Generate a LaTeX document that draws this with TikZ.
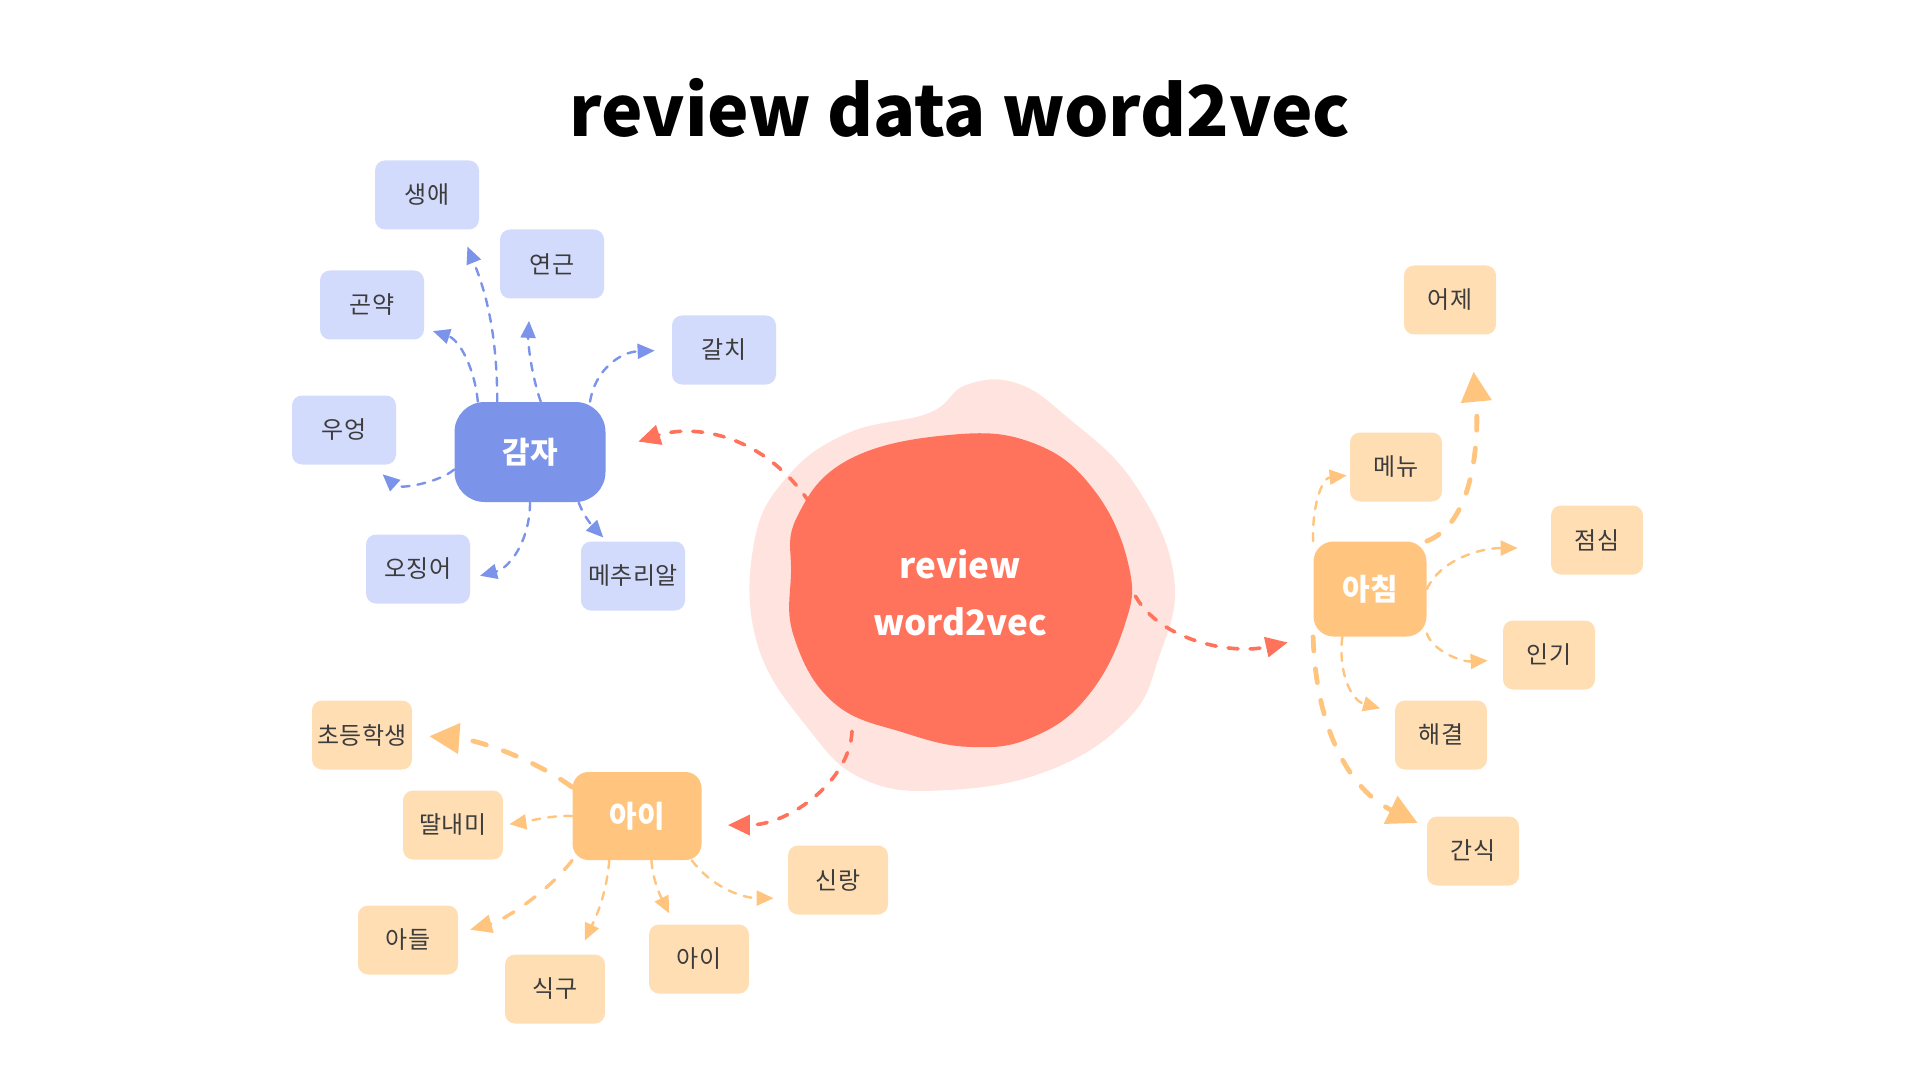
\documentclass[tikz,border=0pt]{standalone}
\usepackage{fontspec}
\setmainfont{Noto Sans CJK KR}
\usepackage{tikz}
\usetikzlibrary{arrows.meta}
\definecolor{mainblue}{HTML}{7B93E8}
\definecolor{leafblue}{HTML}{D3DBFD}
\definecolor{mainorange}{HTML}{FFC57E}
\definecolor{leaforange}{HTML}{FFDEB4}
\definecolor{mainred}{HTML}{FF725C}
\definecolor{lightred}{HTML}{FFE3DF}
\definecolor{leaftext}{HTML}{3C3C3C}
\tikzstyle{leaf}=[rectangle,rounded corners=5pt,inner sep=0pt,minimum height=34.5pt,text=leaftext,font=\fontsize{12pt}{14pt}\selectfont]
\tikzstyle{blue leaf}=[leaf,fill=leafblue,minimum width=52pt]
\tikzstyle{orange leaf}=[leaf,fill=leaforange,minimum width=46pt]
\tikzstyle{kid leaf}=[leaf,fill=leaforange,minimum width=50pt]
\tikzstyle{topic}=[rectangle,inner sep=0pt,text=white,font=\bfseries\fontsize{15pt}{18pt}\selectfont]
\tikzstyle{arrow}=[draw,line cap=round,line width=1.2pt,dash pattern=on 4pt off 4pt,-{Triangle[length=8.5pt,width=7.5pt]}]
\tikzstyle{blue arrow}=[arrow,color=mainblue]
\tikzstyle{orange arrow}=[arrow,color=mainorange]
\tikzstyle{mid arrow}=[orange arrow,line width=1.7pt,dash pattern=on 6pt off 7pt,-{Triangle[length=11pt,width=9pt]}]
\tikzstyle{thick arrow}=[orange arrow,line width=2.4pt,dash pattern=on 7pt off 9pt,-{Triangle[length=15pt,width=15pt]}]
\tikzstyle{red arrow}=[arrow,color=mainred,line width=1.8pt,dash pattern=on 5pt off 6pt,-{Triangle[length=11pt,width=10pt]}]

\begin{document}
\begin{tikzpicture}[x=0.5pt,y=-0.5pt]
    \useasboundingbox (0,0) rectangle (1920,1080);
    \node[font=\bfseries\fontsize{35pt}{42pt}\selectfont] (title) at (960,108) {review data word2vec};
    % centre blob
    \fill[lightred] plot[smooth cycle,tension=0.7] coordinates {(929,413) (966,385) (1016,383) (1067,417) (1134,483) (1174,577) (1158,660) (1127,720) (1050,770) (949,790) (865,780) (807,727) (757,643) (754,543) (787,477) (848,433)};
    \fill[mainred] plot[smooth cycle,tension=0.7] coordinates {(797,517) (848,460) (949,435) (1033,443) (1094,490) (1129,567) (1124,627) (1087,697) (1033,737) (972,747) (905,733) (834,703) (794,637) (791,573)};
    \node[circle,minimum size=175pt,align=center,text=white,font=\bfseries\fontsize{17.5pt}{28.5pt}\selectfont] (rw) at (960,593) {review\\word2vec};
    % topics
    \node[topic,fill=mainblue,rounded corners=15pt,minimum width=75.5pt,minimum height=50pt] (gamja) at (530,452) {감자};
    \node[topic,fill=mainorange,rounded corners=8pt,minimum width=64.5pt,minimum height=44pt] (aimain) at (637,816) {아이};
    \node[topic,fill=mainorange,rounded corners=10pt,minimum width=56.5pt,minimum height=47.5pt] (achim) at (1370,589) {아침};
    % leaves
    \foreach \pos/\name/\word in {{(427,195)/saengae/생애}, {(552,264)/yeongeun/연근}, {(372,305)/gonyak/곤약}, {(724,350)/galchi/갈치}, {(344,430)/ueong/우엉}, {(418,569)/ojingeo/오징어}, {(633,576)/mechu/메추리알}}
        \node[blue leaf] (\name) at \pos {\word};
    \foreach \pos/\name/\word in {{(1450,300)/eoje/어제}, {(1396,467)/menu/메뉴}, {(1597,540)/jeomsim/점심}, {(1549,655)/ingi/인기}, {(1441,735)/haegyeol/해결}, {(1473,851)/gansik/간식}}
        \node[orange leaf] (\name) at \pos {\word};
    \foreach \pos/\name/\word in {{(362,735)/chodeung/초등학생}, {(453,825)/ttal/딸내미}, {(408,940)/adeul/아들}, {(555,989)/sikgu/식구}, {(699,959)/aichild/아이}, {(838,880)/sinrang/신랑}}
        \node[kid leaf] (\name) at \pos {\word};
    % connectors
    \foreach \src/\ax/\ay/\bx/\by/\dst/\gap in {rw.149/760/430/690/425/gamja.0/17pt, rw.232/850/780/790/825/aimain.-8/13pt, rw.-1/1160/640/1230/655/achim.south west/13pt}
        \path[red arrow,shorten >=\gap] (\src) .. controls (\ax,\ay) and (\bx,\by) .. (\dst);
    \foreach \src/\ax/\ay/\bx/\by/\dst/\gap in {gamja.123/497/330/485/290/saengae.-46/9pt, gamja.136/475/370/460/340/gonyak.-24/4.5pt, gamja.78/530/370/528/340/yeongeun.-122/11pt, gamja.40/595/370/620/352/galchi.180/8.5pt, gamja.193/440/482/400/490/ueong.-51/7pt, gamja.-90/530/540/510/568/ojingeo.-10/5pt, gamja.-46/585/520/598/532/mechu.127/2.5pt}
        \path[blue arrow,shorten >=\gap] (\src) .. controls (\ax,\ay) and (\bx,\by) .. (\dst);
    \foreach \src/\ax/\ay/\bx/\by/\dst/\gap in {achim.north west/1312/505/1322/478/menu.190/1.5pt, achim.0/1440/560/1480/548/jeomsim.190/16.5pt, achim.-38/1432/650/1460/662/ingi.186/7.5pt, achim.-120/1338/670/1350/700/haegyeol.154/7.5pt, aimain.180/550/815/525/822/ttal.0/3pt, aimain.-122/606/900/592/925/sikgu.56/7.5pt, aimain.-72/653/885/665/905/aichild.125/6pt, aimain.-39/710/885/740/898/sinrang.200/7pt}
        \path[orange arrow,shorten >=\gap] (\src) .. controls (\ax,\ay) and (\bx,\by) .. (\dst);
    \foreach \src/\ax/\ay/\bx/\by/\dst/\gap in {achim.north east/1480/520/1478/420/eoje.-60/18.5pt, achim.south west/1316/730/1350/790/gansik.153/5pt, aimain.156/535/760/480/740/chodeung.0/8.5pt}
        \path[thick arrow,shorten >=\gap] (\src) .. controls (\ax,\ay) and (\bx,\by) .. (\dst);
    \path[mid arrow,shorten >=6pt] (aimain.south west) .. controls (550,890) and (505,920) .. (adeul.8);
\end{tikzpicture}
\end{document}
